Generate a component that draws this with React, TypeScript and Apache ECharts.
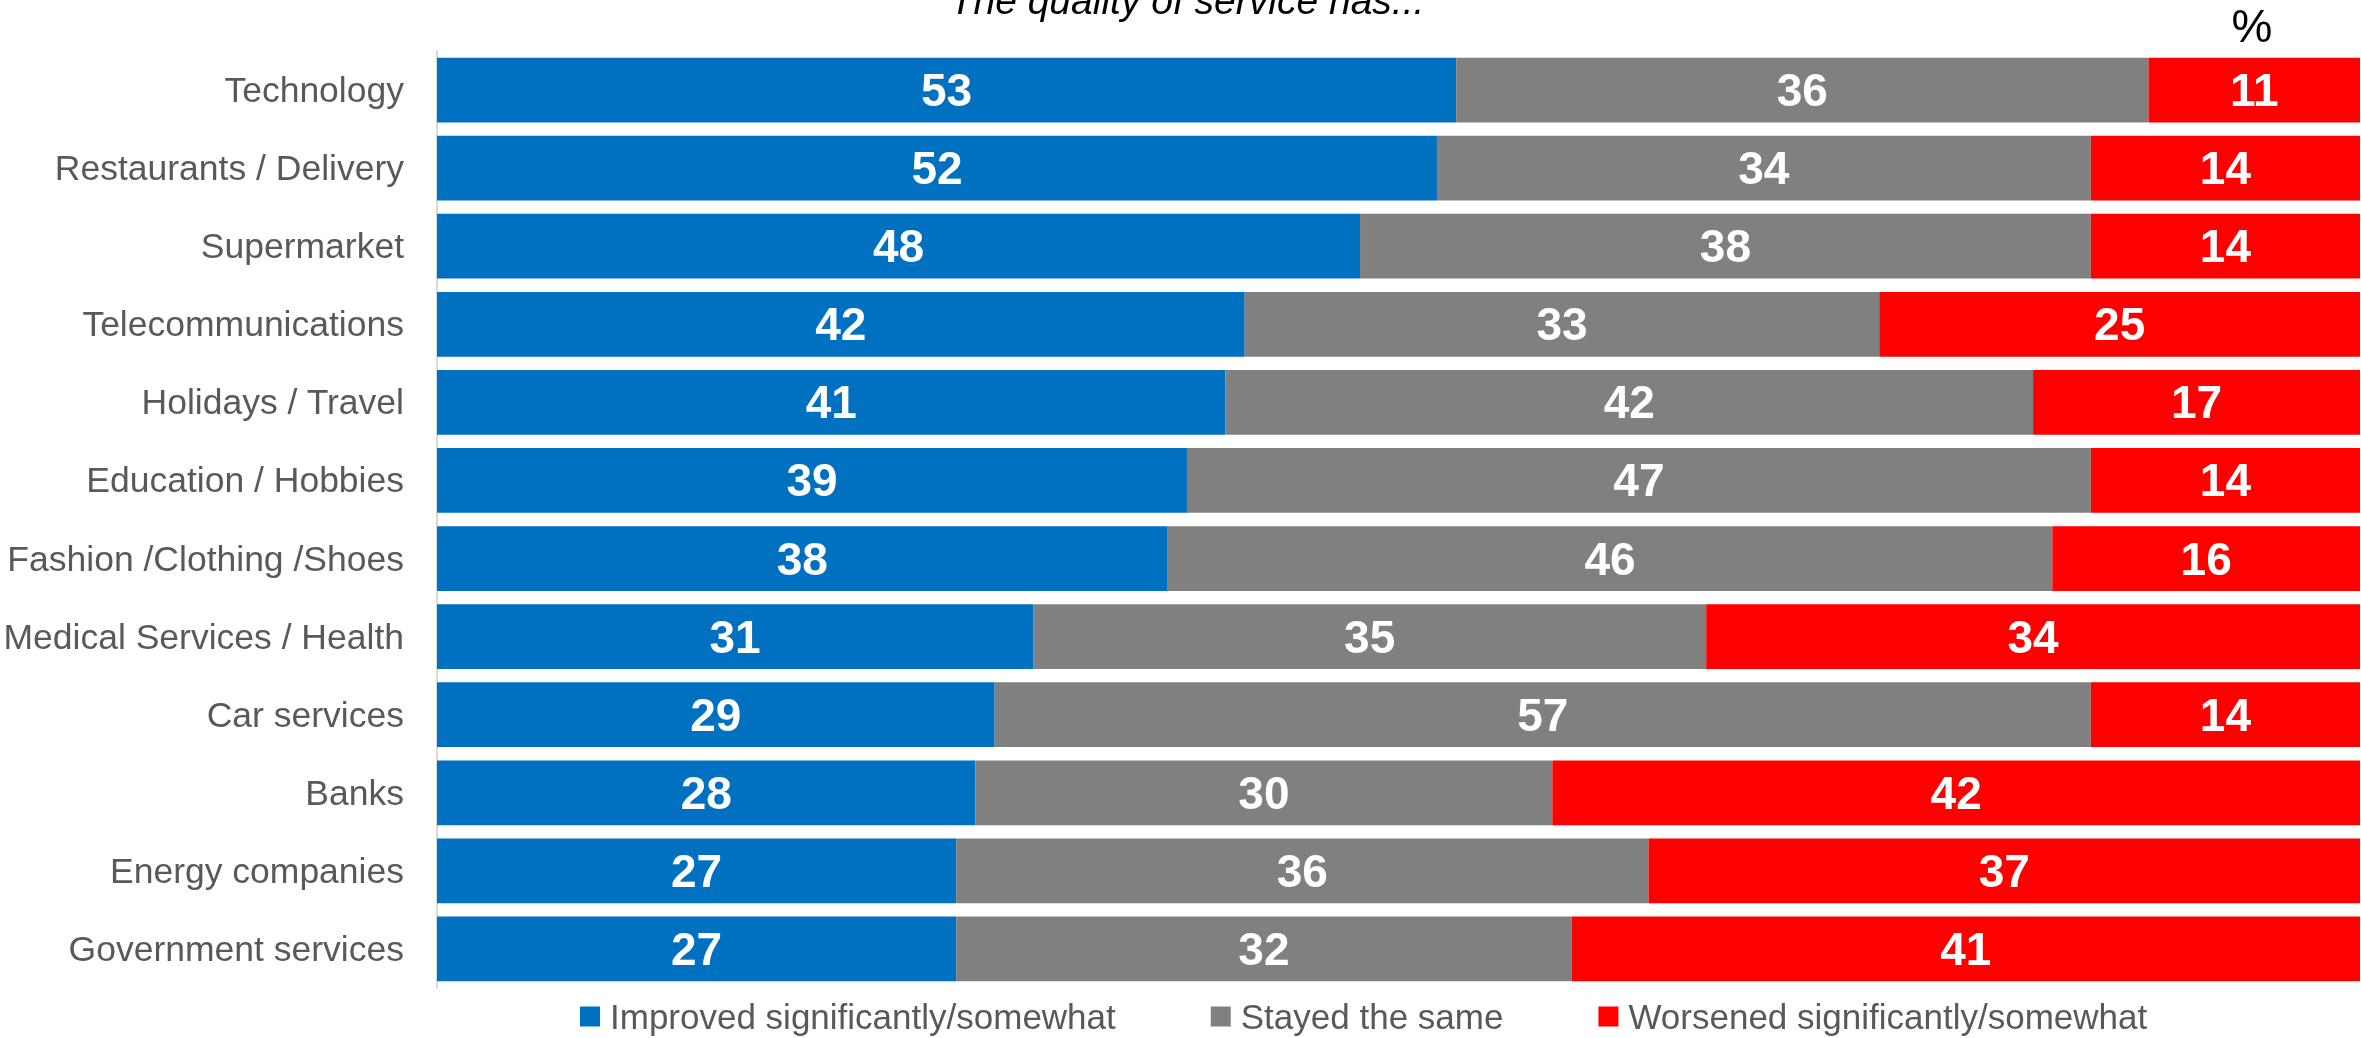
import React, { useEffect, useRef } from "react";
import * as echarts from "echarts";

const categories = [
  "Technology",
  "Restaurants / Delivery",
  "Supermarket",
  "Telecommunications",
  "Holidays / Travel",
  "Education / Hobbies",
  "Fashion /Clothing /Shoes",
  "Medical Services / Health",
  "Car services",
  "Banks",
  "Energy companies",
  "Government services",
];
const improved = [53, 52, 48, 42, 41, 39, 38, 31, 29, 28, 27, 27];
const stayed = [36, 34, 38, 33, 42, 47, 46, 35, 57, 30, 36, 32];
const worsened = [11, 14, 14, 25, 17, 14, 16, 34, 14, 42, 37, 41];
const seriesNames = [
  "Improved significantly/somewhat",
  "Stayed the same",
  "Worsened significantly/somewhat",
];
const colors = ["#0070C0", "#808080", "#FF0000"];
const FONT = "Liberation Sans, Arial, sans-serif";

export default function App() {
  const ref = useRef<HTMLDivElement>(null);
  useEffect(() => {
    const chart = echarts.init(ref.current!, null, { renderer: "svg" });
    const mk = (name: string, data: number[], color: string) => ({
      name,
      type: "bar",
      stack: "total",
      data,
      barCategoryGap: "17%",
      itemStyle: { color },
      label: {
        show: true,
        position: "inside",
        color: "#FFFFFF",
        fontFamily: FONT,
        fontWeight: "bold",
        fontSize: 46,
      },
    });
    chart.setOption({
      animation: false,
      textStyle: { fontFamily: FONT },
      grid: {
        left: 437,
        right: 1,
        top: 51,
        bottom: 50,
        containLabel: false,
        outerBoundsMode: "none",
      },
      legend: {
        left: 575,
        top: 994,
        itemWidth: 20,
        itemHeight: 20,
        itemGap: 95,
        icon: "rect",
        textStyle: { fontSize: 35, color: "#595959", fontFamily: FONT, padding: [0, 0, 0, 5] },
        data: seriesNames,
      },
      graphic: [
        {
          type: "text",
          x: 1187,
          y: 20,
          style: {
            text: "The quality of service has...",
            fontFamily: FONT,
            fontStyle: "italic",
            fontSize: 39,
            fill: "#000000",
            textAlign: "center",
            textVerticalAlign: "bottom",
          },
        },
        {
          type: "text",
          x: 2252,
          y: 26,
          style: {
            text: "%",
            fontFamily: FONT,
            fontSize: 46,
            fill: "#000000",
            textAlign: "center",
            textVerticalAlign: "middle",
          },
        },
      ],
      xAxis: {
        type: "value",
        min: 0,
        max: 100,
        show: false,
      },
      yAxis: {
        type: "category",
        inverse: true,
        data: categories,
        axisLine: { show: true, lineStyle: { color: "#D9D9D9", width: 2 } },
        axisTick: { show: false },
        axisLabel: {
          fontSize: 35.5,
          color: "#595959",
          fontFamily: FONT,
          margin: 33,
        },
      },
      series: [
        mk(seriesNames[0], improved, colors[0]),
        mk(seriesNames[1], stayed, colors[1]),
        mk(seriesNames[2], worsened, colors[2]),
      ],
    });
    return () => chart.dispose();
  }, []);
  return (
    <div
      ref={ref}
      style={{ position: "fixed", left: 0, top: 0, width: 2361, height: 1038 }}
    />
  );
}
